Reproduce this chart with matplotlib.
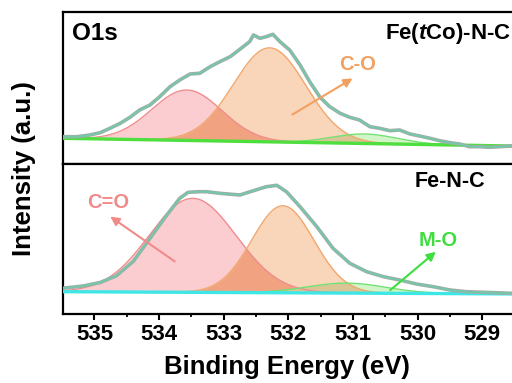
import numpy as np
import matplotlib
matplotlib.use("Agg")
import matplotlib.pyplot as plt
from matplotlib.ticker import MultipleLocator

plt.rcParams['font.family'] = ['Liberation Sans', 'DejaVu Sans']
plt.rcParams['font.weight'] = 'bold'
plt.rcParams['mathtext.fontset'] = 'custom'
plt.rcParams['mathtext.rm'] = 'Liberation Sans:bold'
plt.rcParams['mathtext.it'] = 'Liberation Sans:italic:bold'
plt.rcParams['mathtext.bf'] = 'Liberation Sans:bold'

# ---------------- data ----------------
# Fe(tCo)-N-C raw spectrum
top_energy = [535.48, 535.27, 535.07, 534.91, 534.76, 534.60, 534.45, 534.30, 534.14, 533.99,
              533.83, 533.68, 533.52, 533.37, 533.21, 533.06, 532.90, 532.75, 532.60, 532.54,
              532.44, 532.34, 532.24, 532.13, 531.98, 531.82, 531.67, 531.51, 531.36, 531.20,
              531.05, 530.90, 530.74, 530.59, 530.43, 530.28, 530.12, 529.97, 529.81, 529.66,
              529.50, 529.35, 529.20, 529.04, 528.89, 528.73, 528.55]
top_counts = [27.3, 27.3, 29.0, 31.3, 35.7, 40.7, 46.7, 54.0, 59.0, 67.3,
              77.3, 84.0, 90.0, 90.7, 97.3, 102.3, 107.3, 114.7, 122.3, 129.0,
              125.7, 127.3, 129.7, 122.3, 114.0, 99.0, 82.3, 66.7, 57.3, 50.7,
              46.7, 44.0, 37.3, 35.7, 33.3, 34.0, 30.0, 28.0, 25.7, 23.3,
              21.3, 20.0, 17.3, 17.3, 16.7, 17.3, 18.0]
# Fe-N-C raw spectrum
bot_energy = [535.50, 535.17, 534.91, 534.66, 534.40, 534.14, 533.88, 533.68, 533.55, 533.37,
              533.26, 533.06, 532.75, 532.54, 532.34, 532.18, 532.03, 531.82, 531.56, 531.31,
              531.05, 530.79, 530.53, 530.28, 530.02, 529.76, 529.50, 529.25, 528.55]
bot_counts = [25.7, 28.0, 31.5, 38.2, 52.5, 75.7, 99.0, 115.7, 121.7, 122.3,
              122.3, 120.7, 119.0, 123.3, 127.3, 128.7, 122.3, 107.3, 87.3, 65.7,
              50.7, 42.3, 37.3, 34.0, 30.0, 27.3, 24.0, 22.3, 20.7]

# fitted components: C=O, C-O, M-O  (center eV, height, sigma eV)
components = ['C=O', 'C-O', 'M-O']
top_centers = [533.57, 532.29, 530.82]
top_heights = [50.4, 94.0, 9.5]
top_sigmas = [0.54, 0.56, 0.50]
top_bg_energy = [535.49, 528.30]
top_bg_level = [25.7, 17.7]

bot_centers = [533.48, 532.085, 531.10]
bot_heights = [94.0, 87.0, 10.0]
bot_sigmas = [0.67, 0.48, 0.60]
bot_bg_energy = [535.49, 528.30]
bot_bg_level = [22.3, 20.0]

xticks = [535, 534, 533, 532, 531, 530, 529]

# ---------------- styles ----------------
fill_cols = ['#fbcdd1', '#f9d5ba', '#d2f5c8']
edge_cols = ['#f08c8c', '#f2a66a', '#74e074']
overlap_po = '#f0a281'
overlap_og = '#d9c694'

fig = plt.figure(figsize=(5.12, 3.83), dpi=100)
ax_top = fig.add_axes([0.1225, 0.5718, 0.908, 0.3977])
ax_bot = fig.add_axes([0.1225, 0.1802, 0.908, 0.3916])

grid = np.linspace(535.6, 528.2, 700)


def panel(ax, energy, counts, centers, heights, sigmas, bg_e, bg_l, bg_color, ymax):
    bg = np.interp(grid, bg_e[::-1], bg_l[::-1])
    comps = [h * np.exp(-(grid - c) ** 2 / (2 * s ** 2)) for c, h, s in zip(centers, heights, sigmas)]
    for comp, fc in zip(comps, fill_cols):
        ax.fill_between(grid, bg, bg + comp, color=fc, lw=0, zorder=1)
    ax.fill_between(grid, bg, bg + np.minimum(comps[0], comps[1]), color=overlap_po, lw=0, zorder=2)
    ax.fill_between(grid, bg, bg + np.minimum(comps[1], comps[2]), color=overlap_og, lw=0, zorder=2)
    for comp, ec in zip(comps, edge_cols):
        ax.plot(grid, bg + comp, color=ec, lw=1.0, zorder=3)
    ax.plot(grid, bg, color=bg_color, lw=2.4, zorder=4)
    ax.plot(energy, counts, color='#a8a8a8', lw=2.6, zorder=5)
    ax.plot(energy, counts, color='#74c8a8', lw=1.5, zorder=6)
    ax.set_xlim(535.49, 528.30)
    ax.set_ylim(0, ymax)
    ax.set_yticks([])
    for s in ax.spines.values():
        s.set_linewidth(1.6)
    ax.spines['right'].set_visible(False)


panel(ax_top, top_energy, top_counts, top_centers, top_heights, top_sigmas,
      top_bg_energy, top_bg_level, '#4ede3e', 152.3)
panel(ax_bot, bot_energy, bot_counts, bot_centers, bot_heights, bot_sigmas,
      bot_bg_energy, bot_bg_level, '#3ee6e6', 150.0)

ax_top.set_xticks([])
ax_top.tick_params(axis='x', which='both', bottom=False)

ax_bot.set_xticks(xticks)
ax_bot.set_xticklabels([str(t) for t in xticks])
ax_bot.xaxis.set_minor_locator(MultipleLocator(0.5))
ax_bot.tick_params(axis='x', which='major', direction='out', length=4, width=1.5,
                   labelsize=16, pad=3)
ax_bot.tick_params(axis='x', which='minor', direction='out', length=2.5, width=1.3)
for lab in ax_bot.get_xticklabels():
    lab.set_fontweight('bold')

fig.text(287 / 512, 1 - 367 / 383, 'Binding Energy (eV)', ha='center', va='center',
         fontsize=18.5, fontweight='bold')
fig.text(24 / 512, 1 - 169 / 383, 'Intensity (a.u.)', ha='center', va='center',
         rotation=90, fontsize=18.5, fontweight='bold')

fig.text(72 / 512, 1 - 33 / 383, 'O1s', ha='left', va='center', fontsize=17.5, fontweight='bold')
fig.text(511 / 512, 1 - 33 / 383, r'Fe($\mathit{t}$Co)-N-C', ha='right', va='center',
         fontsize=16, fontweight='bold')
fig.text(450 / 512, 1 - 182 / 383, 'Fe-N-C', ha='center', va='center', fontsize=15.5, fontweight='bold')

label_cols = ['#f28a8a', '#f2a060', '#3ede3e']
label_pos = [(108, 203), (358, 65), (438, 240)]
arrow_from = [(177, 263), (290, 116), (388, 292)]
arrow_to = [(108, 215), (355, 77), (438, 250)]
for name, col, lp, af, at in zip(components, label_cols, label_pos, arrow_from, arrow_to):
    fig.text(lp[0] / 512, 1 - lp[1] / 383, name, ha='center', va='center', color=col,
             fontsize=14.5, fontweight='bold')
    fig.add_artist(matplotlib.patches.FancyArrowPatch(
        (af[0] / 512, 1 - af[1] / 383), (at[0] / 512, 1 - at[1] / 383),
        transform=fig.transFigure, arrowstyle='-|>', mutation_scale=13,
        color=col, lw=1.5))

fig.savefig('out.png', dpi=100)
